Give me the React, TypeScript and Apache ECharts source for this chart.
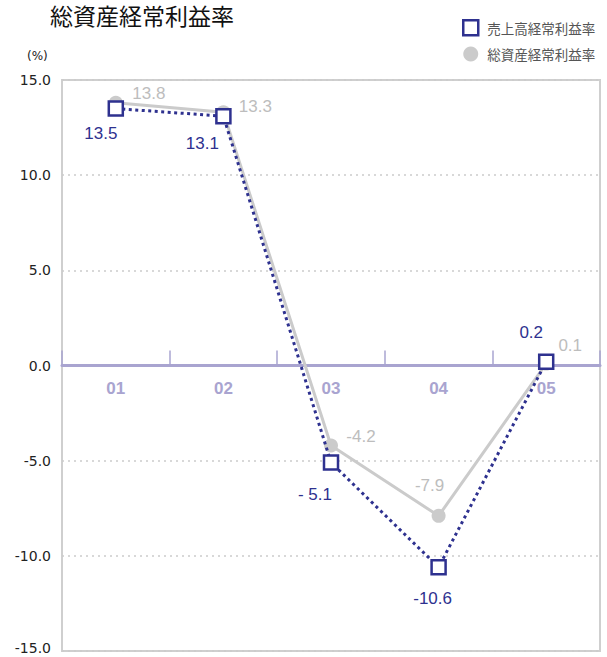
import React, { useEffect, useRef } from "react";
import * as echarts from "echarts";

const categories = ["01", "02", "03", "04", "05"];
const salesName = "売上高経常利益率";
const assetsName = "総資産経常利益率";
const salesValues = [13.5, 13.1, -5.1, -10.6, 0.2];
const assetsValues = [13.8, 13.3, -4.2, -7.9, 0.1];
const yTicks = [-15, -10, -5, 0, 5, 10, 15];

// label offsets (style only)
const salesLabelOffsets = [[-15, 25], [-21, 27], [-16, 32], [-6, 31], [-15, -29]];
const assetsLabelOffsets = [[33, -9], [32, -6], [30, -9], [-9, -30], [24, -18]];

const NAVY = "#2e318f";
const GREY = "#cbcbcb";
const PURPLE = "#a9a4d0";
const SANS = "'Liberation Sans', Arial, 'Noto Sans', sans-serif";

const GRID_TOP = 80;
const GRID_BOTTOM = 6;
const CHART_H = 657;

export default function App() {
  const ref = useRef<HTMLDivElement>(null);
  useEffect(() => {
    if (!ref.current) return;
    const chart = echarts.init(ref.current, null, { renderer: "svg" });
    const fmt = (v: number) => (v < 0 && v > -10 ? "- " + Math.abs(v).toFixed(1) : v.toFixed(1));
    const plotH = CHART_H - GRID_TOP - GRID_BOTTOM;
    const zeroShift = -plotH * (0 - yTicks[0]) / (yTicks[yTicks.length - 1] - yTicks[0]);
    chart.setOption({
      animation: false,
      title: {
        text: "総資産経常利益率",
        left: 50,
        top: 2,
        padding: 0,
        textStyle: {
          fontSize: 23,
          lineHeight: 26,
          fontWeight: "normal",
          color: "#111",
          fontFamily: "'Noto Sans CJK JP', sans-serif",
        },
      },
      legend: {
        orient: "vertical",
        left: 457,
        top: 14,
        itemWidth: 15,
        itemHeight: 15,
        itemGap: 10,
        textStyle: { fontSize: 13.5, color: "#555", fontFamily: "'Noto Sans CJK JP', sans-serif", padding: [0, 0, 0, 4] },
        data: [
          { name: salesName, icon: "rect", itemStyle: { color: "#fff", borderColor: NAVY, borderWidth: 2.5 } },
          { name: assetsName, icon: "circle", itemStyle: { color: GREY, borderWidth: 0 } },
        ],
      },
      graphic: [
        {
          type: "text",
          left: 27,
          top: 50,
          style: { text: "(%)", fontSize: 12, fill: "#222", fontFamily: "'DejaVu Sans', sans-serif" },
        },
      ],
      grid: {
        left: 62,
        right: 7,
        top: GRID_TOP,
        bottom: GRID_BOTTOM,
        show: true,
        borderColor: "#cfcfcf",
        borderWidth: 2,
        containLabel: false,
        outerBoundsMode: "none",
      },
      xAxis: {
        type: "category",
        data: categories,
        boundaryGap: true,
        position: "bottom",
        offset: zeroShift,
        axisLine: { onZero: false, lineStyle: { color: PURPLE, width: 3 } },
        axisTick: { show: true, inside: true, length: 15, lineStyle: { color: PURPLE, width: 1.5 } },
        axisLabel: { margin: 14, fontSize: 17, fontWeight: "bold", color: PURPLE, fontFamily: SANS },
        splitLine: { show: false },
      },
      yAxis: {
        type: "value",
        min: yTicks[0],
        max: yTicks[yTicks.length - 1],
        interval: 5,
        axisLine: { show: false },
        axisTick: { show: false },
        axisLabel: {
          margin: 11,
          fontSize: 14,
          color: "#222",
          fontFamily: "'DejaVu Sans', sans-serif",
          formatter: (v: number) => (v === yTicks[0] ? "{m|" + v.toFixed(1) + "}" : v.toFixed(1)),
          rich: {
            m: { fontSize: 14, color: "#222", fontFamily: "'DejaVu Sans', sans-serif", padding: [0, 0, 6, 0] },
          },
        },
        splitLine: { show: true, lineStyle: { color: "#cccccc", type: [2, 4], width: 1.5 } },
      },
      series: [
        {
          name: assetsName,
          type: "line",
          data: assetsValues.map((v, i) => ({
            value: v,
            label: { offset: assetsLabelOffsets[i] },
          })),
          symbol: "circle",
          symbolSize: 14,
          itemStyle: { color: GREY },
          lineStyle: { color: GREY, width: 3 },
          label: {
            show: true,
            position: "inside",
            color: "#bdbdbd",
            fontSize: 17,
            fontFamily: SANS,
            formatter: (p: any) => p.value.toFixed(1),
          },
          z: 2,
        },
        {
          name: salesName,
          type: "line",
          data: salesValues.map((v, i) => ({
            value: v,
            label: { offset: salesLabelOffsets[i] },
          })),
          symbol: "rect",
          symbolSize: 14,
          itemStyle: { color: "#fff", borderColor: NAVY, borderWidth: 2.5 },
          lineStyle: { color: NAVY, width: 3, type: [3, 3.5] },
          label: {
            show: true,
            position: "inside",
            color: NAVY,
            fontSize: 17,
            fontFamily: SANS,
            formatter: (p: any) => fmt(p.value),
          },
          z: 3,
        },
      ],
    });
    return () => chart.dispose();
  }, []);
  return <div ref={ref} style={{ width: 607, height: CHART_H, position: "absolute", left: 0, top: 0 }} />;
}
